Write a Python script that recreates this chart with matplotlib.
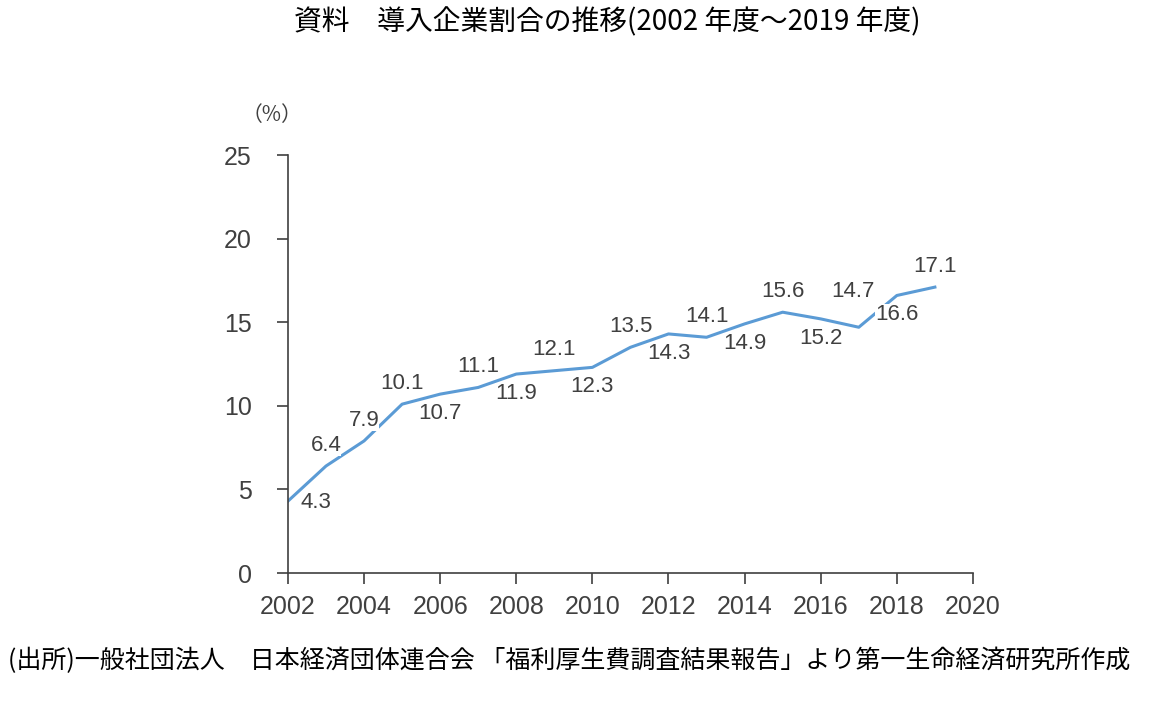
import matplotlib.pyplot as plt
from matplotlib import font_manager

years = [2002, 2003, 2004, 2005, 2006, 2007, 2008, 2009, 2010,
         2011, 2012, 2013, 2014, 2015, 2016, 2017, 2018, 2019]
ratio = [4.3, 6.4, 7.9, 10.1, 10.7, 11.1, 11.9, 12.1, 12.3,
         13.5, 14.3, 14.1, 14.9, 15.6, 15.2, 14.7, 16.6, 17.1]
# label above (1), below (-1) or right (0) of the line
side = [0, 1, 1, 1, -1, 1, -1, 1, -1, 1, -1, 1, -1, 1, -1, 1, -1, 1]

jp = ['Noto Sans CJK JP', 'DejaVu Sans']
names = {f.name for f in font_manager.fontManager.ttflist}
num_font = ['Liberation Sans Narrow'] if 'Liberation Sans Narrow' in names else ['Liberation Sans']

fig = plt.figure(figsize=(11.62, 7.05), dpi=100)
ax = fig.add_axes([0.2478, 0.1872, 0.5895, 0.5929])

ax.plot(years, ratio, color='#5B9BD5', lw=2.2, zorder=2)

for x, y, s in zip(years, ratio, side):
    if s == 0:
        dx, dy = 20, -1
    else:
        dx, dy = 0, (15 if s > 0 else -14)
    if x == 2017:
        # moved up in the original so it clears the 2018 label
        dx, dy = -4, 26
    ax.annotate(f'{y:.1f}', (x, y), xytext=(dx, dy), textcoords='offset points',
                ha='center', va='center', fontsize=16, color='#404040',
                family=num_font,
                bbox=dict(boxstyle='square,pad=0.0', fc='white', ec='none'),
                zorder=3)

ax.set_xlim(2002, 2020)
ax.set_ylim(0, 25)
ax.set_xticks(range(2002, 2021, 2))
ax.set_yticks(range(0, 26, 5))
for sp in ['top', 'right']:
    ax.spines[sp].set_visible(False)
for sp in ['left', 'bottom']:
    ax.spines[sp].set_color('#404040')
    ax.spines[sp].set_linewidth(1.2)
ax.tick_params(direction='out', length=8, width=1.2, color='#404040',
               labelcolor='#404040', labelsize=18, pad=8)
for lab in ax.get_xticklabels() + ax.get_yticklabels():
    lab.set_family(num_font)
ax.tick_params(axis='y', pad=18)

fig.text(0.234, 0.837, '（%）', ha='center', va='center', fontsize=15,
         color='#404040', family=jp)
fig.text(0.523, 0.968, '資料　導入企業割合の推移(2002 年度～2019 年度)',
         ha='center', va='center', fontsize=20, family=jp)
fig.text(0.007, 0.063,
         '(出所)一般社団法人　日本経済団体連合会 「福利厚生費調査結果報告」より第一生命経済研究所作成',
         ha='left', va='center', fontsize=18, family=jp)

fig.savefig('out.png', dpi=100)
